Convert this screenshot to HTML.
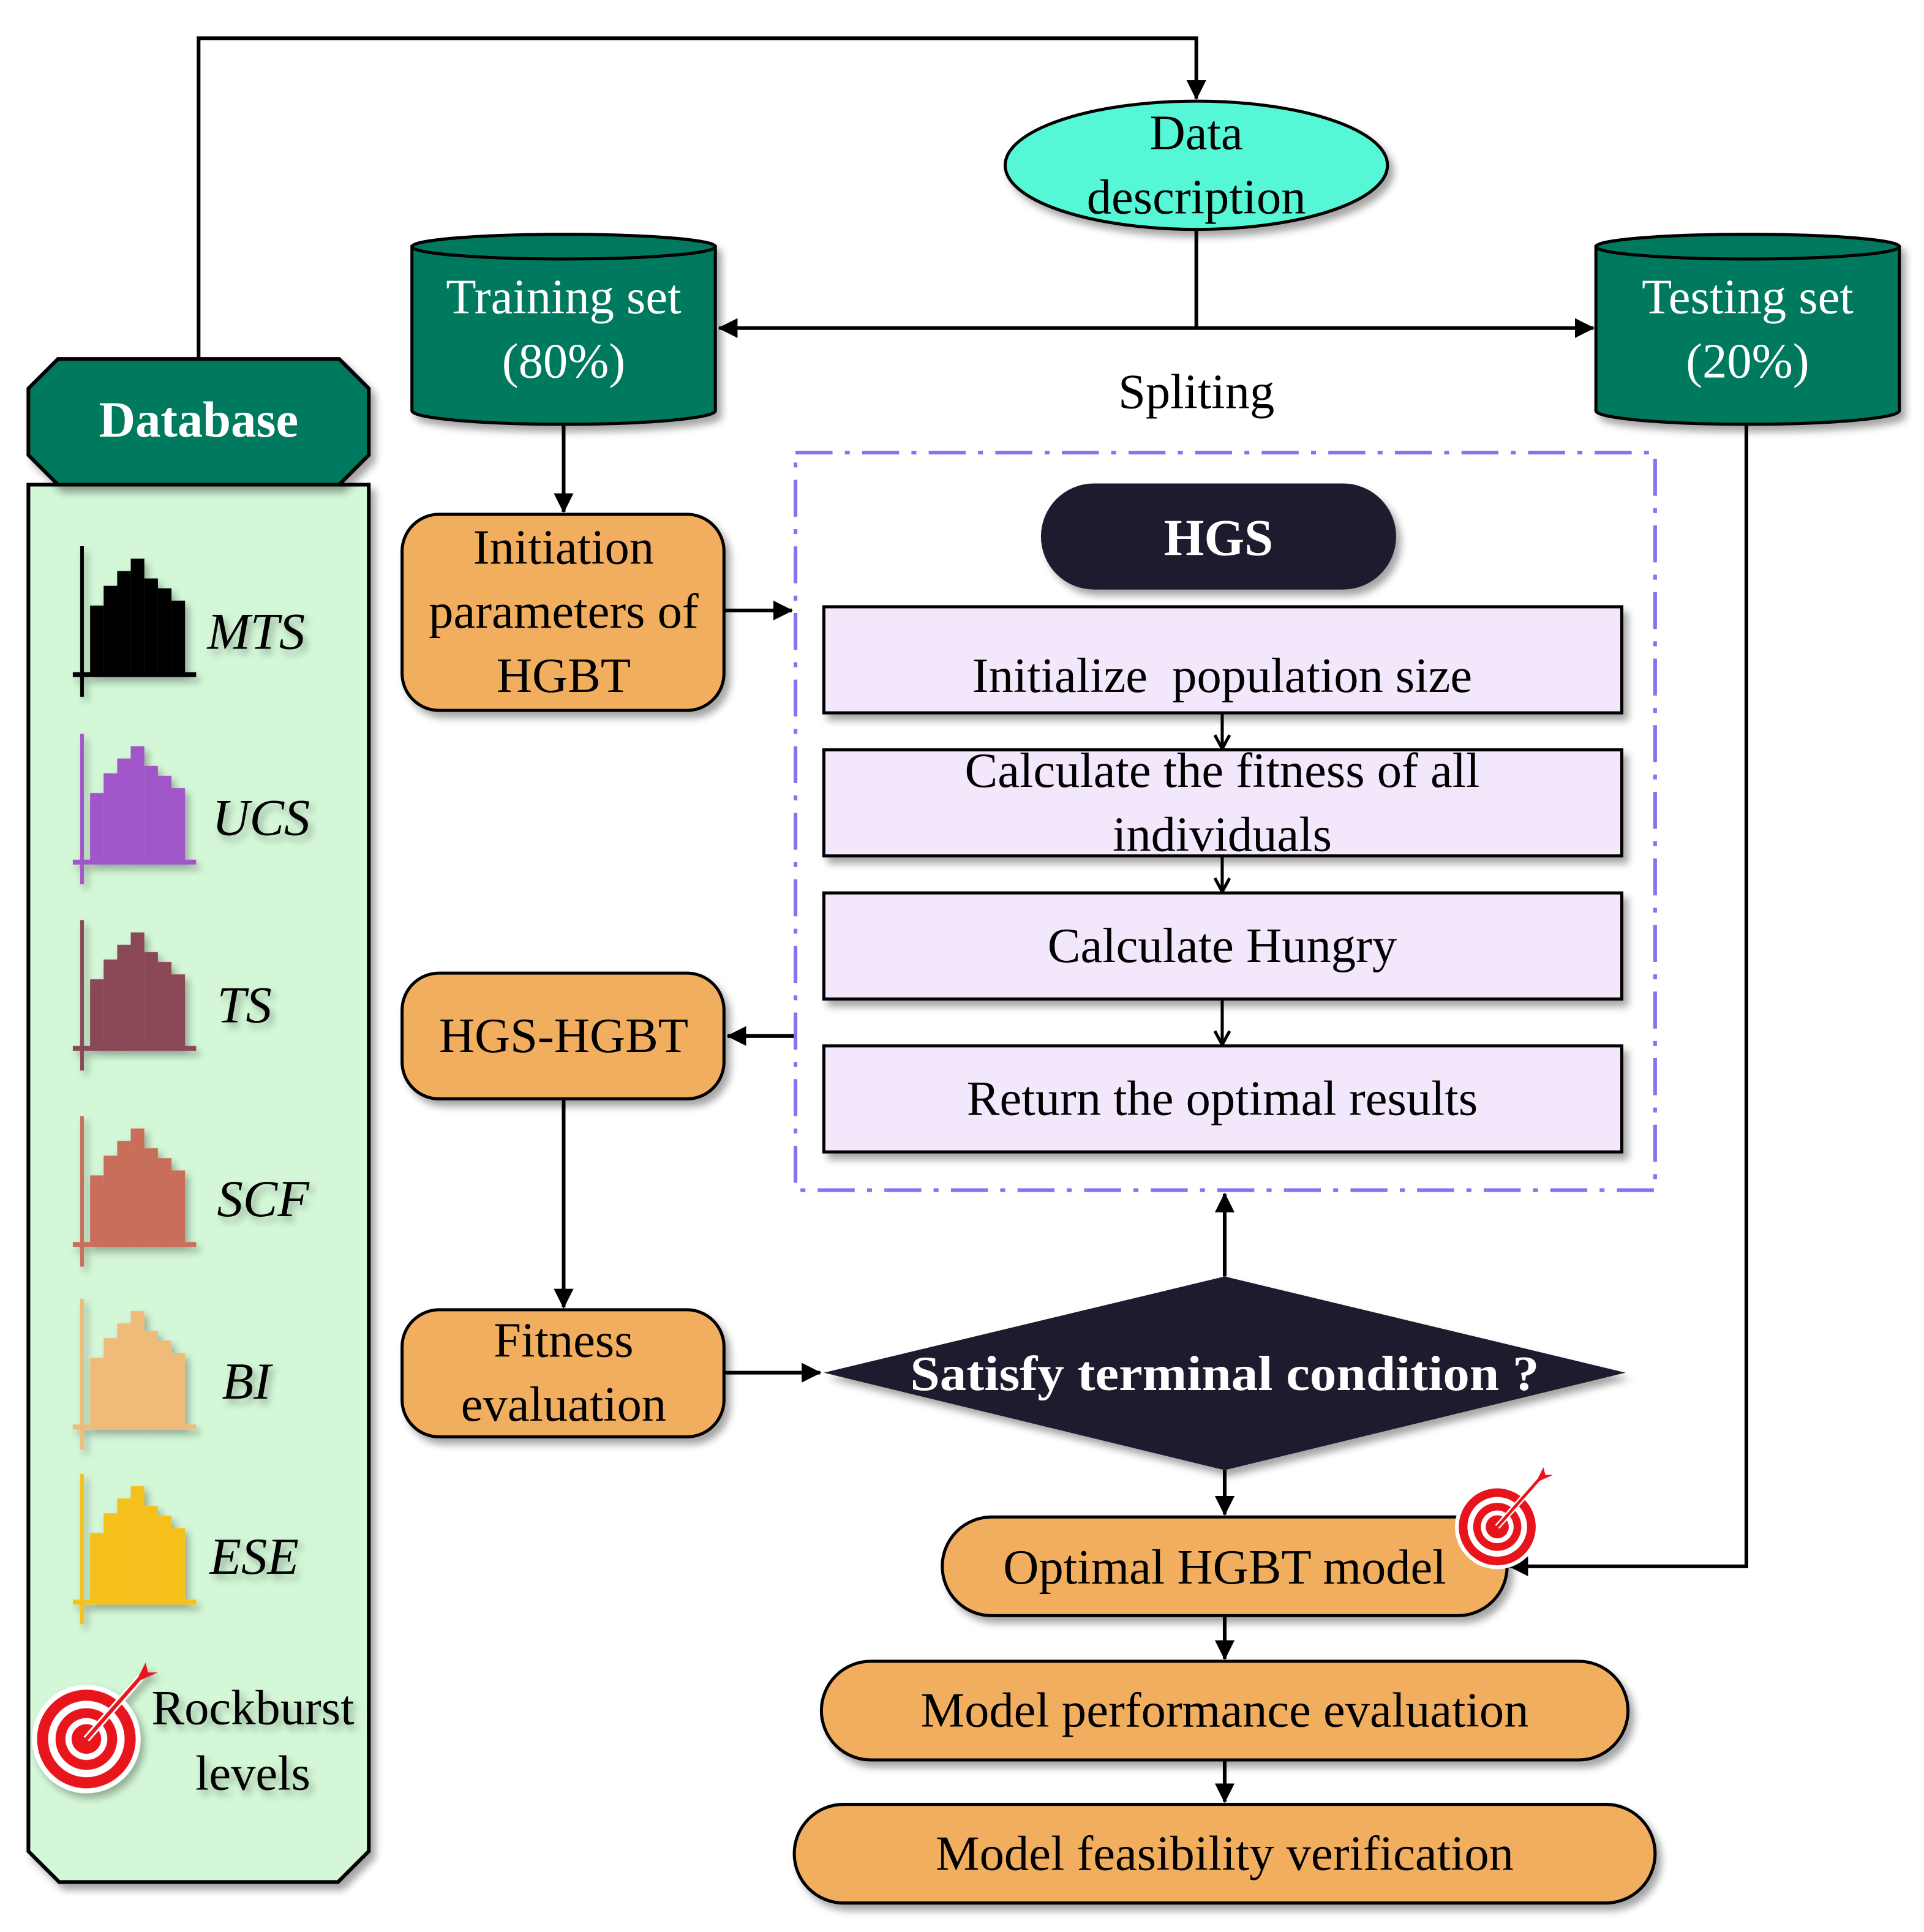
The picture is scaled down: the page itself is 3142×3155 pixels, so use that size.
<!DOCTYPE html>
<html><head><meta charset="utf-8"><style>
html,body{margin:0;padding:0;background:#fff;}
svg{display:block;}
text{font-family:"Liberation Serif",serif;}
</style></head><body>
<svg width="3142" height="3155" viewBox="0 0 1560 1566.5" xmlns="http://www.w3.org/2000/svg">
<defs>
<filter id="sh" x="-10%" y="-10%" width="130%" height="140%"><feDropShadow dx="4" dy="5" stdDeviation="3" flood-color="#000" flood-opacity="0.35"/></filter>
<filter id="ts" x="-10%" y="-10%" width="130%" height="140%"><feDropShadow dx="3" dy="4" stdDeviation="3" flood-color="#000" flood-opacity="0.3"/></filter>
<marker id="ah" markerWidth="10" markerHeight="10" refX="9" refY="5" orient="auto" markerUnits="userSpaceOnUse" viewBox="0 0 10 10"><path d="M0,0 L10,5 L0,10 z" fill="#000"/></marker>
<marker id="ab" markerWidth="16" markerHeight="16" refX="15" refY="8" orient="auto" markerUnits="userSpaceOnUse" viewBox="0 0 16 16"><path d="M0,0 L16,8 L0,16 z" fill="#000"/></marker>
<marker id="ao" markerWidth="14" markerHeight="14" refX="12" refY="7" orient="auto" markerUnits="userSpaceOnUse" viewBox="0 0 14 14"><path d="M1,1 L12,7 L1,13" fill="none" stroke="#000" stroke-width="2.5"/></marker>
<g id="bars">
<rect x="6" y="-57" width="11" height="57"/><rect x="17" y="-73" width="11" height="73"/><rect x="28" y="-85" width="11" height="85"/><rect x="39" y="-95" width="11" height="95"/><rect x="50" y="-79" width="11" height="79"/><rect x="61" y="-71" width="11" height="71"/><rect x="72" y="-61" width="11" height="61"/>
<rect x="-2" y="-105" width="3" height="122"/><rect x="-8" y="-3" width="100" height="4"/>
</g>
<g id="target">
<circle r="44" fill="#fff"/><circle r="40" fill="#e8141c"/><circle r="31" fill="#fff"/><circle r="25" fill="#e8141c"/><circle r="17" fill="#fff"/><circle r="12" fill="#e8141c"/>
<line x1="0" y1="0" x2="44" y2="-50" stroke="#fff" stroke-width="6"/>
<line x1="0" y1="0" x2="44" y2="-50" stroke="#e8141c" stroke-width="3"/>
<path d="M40,-46 L48,-62 L50,-54 L58,-54 Z" fill="#e8141c"/>
</g>
</defs>

<!-- top connector -->
<polyline points="161,290 161,31 970,31 970,80" fill="none" stroke="#000" stroke-width="3" marker-end="url(#ab)"/>

<!-- Database panel -->
<path d="M23,393 L299,393 L299,1501 L274,1526 L48,1526 L23,1501 Z" fill="#d3f7d7" stroke="#000" stroke-width="3" filter="url(#sh)"/>
<path d="M47,291 L275,291 L299,315 L299,369 L275,393 L47,393 L23,369 L23,315 Z" fill="#007a5e" stroke="#000" stroke-width="3" filter="url(#sh)"/>
<text x="161" y="354" font-size="41" font-weight="bold" fill="#fff" text-anchor="middle">Database</text>

<g filter="url(#ts)">
<use href="#bars" x="67" y="548" fill="#000"/>
<use href="#bars" x="67" y="700" fill="#a057c8"/>
<use href="#bars" x="67" y="851" fill="#8a4656"/>
<use href="#bars" x="67" y="1010" fill="#c96e5a"/>
<use href="#bars" x="67" y="1158" fill="#f0bb78"/>
<use href="#bars" x="67" y="1300" fill="#f6c01a"/>
<text x="168" y="526" font-size="42" font-style="italic">MTS</text>
<text x="172" y="677" font-size="42" font-style="italic">UCS</text>
<text x="176" y="829" font-size="42" font-style="italic">TS</text>
<text x="176" y="986" font-size="42" font-style="italic">SCF</text>
<text x="180" y="1134" font-size="42" font-style="italic">BI</text>
<text x="170" y="1276" font-size="42" font-style="italic">ESE</text>
<use href="#target" x="70" y="1410"/>
<text x="205" y="1398" font-size="40" text-anchor="middle">Rockburst</text>
<text x="205" y="1451" font-size="40" text-anchor="middle">levels</text>
</g>

<!-- Data description -->
<ellipse cx="970" cy="134" rx="155" ry="52" fill="#55f7d6" stroke="#000" stroke-width="2.5" filter="url(#sh)"/>
<text x="970" y="121" font-size="40" text-anchor="middle">Data</text>
<text x="970" y="173" font-size="40" text-anchor="middle">description</text>
<line x1="970" y1="186" x2="970" y2="266" stroke="#000" stroke-width="3"/>
<line x1="970" y1="266" x2="583" y2="266" stroke="#000" stroke-width="3" marker-end="url(#ab)"/>
<line x1="970" y1="266" x2="1292" y2="266" stroke="#000" stroke-width="3" marker-end="url(#ab)"/>
<text x="970" y="331" font-size="40" text-anchor="middle">Spliting</text>

<!-- cylinders -->
<g filter="url(#sh)">
<path d="M334,200 L334,333 A123,11 0 0 0 580,333 L580,200 Z" fill="#007a5e" stroke="#000" stroke-width="2.5"/>
<ellipse cx="457" cy="200" rx="123" ry="10" fill="#007a5e" stroke="#000" stroke-width="2.5"/>
<path d="M1294,200 L1294,333 A123,11 0 0 0 1540,333 L1540,200 Z" fill="#007a5e" stroke="#000" stroke-width="2.5"/>
<ellipse cx="1417" cy="200" rx="123" ry="10" fill="#007a5e" stroke="#000" stroke-width="2.5"/>
</g>
<text x="457" y="254" font-size="40" fill="#fff" text-anchor="middle">Training set</text>
<text x="457" y="306" font-size="40" fill="#fff" text-anchor="middle">(80%)</text>
<text x="1417" y="254" font-size="40" fill="#fff" text-anchor="middle">Testing set</text>
<text x="1417" y="306" font-size="40" fill="#fff" text-anchor="middle">(20%)</text>

<!-- left orange boxes -->
<line x1="457" y1="344" x2="457" y2="415" stroke="#000" stroke-width="3" marker-end="url(#ab)"/>
<rect x="326" y="417" width="261" height="159" rx="30" fill="#f2ae5f" stroke="#000" stroke-width="2.5" filter="url(#sh)"/>
<text x="457" y="457" font-size="40" text-anchor="middle">Initiation</text>
<text x="457" y="509" font-size="40" text-anchor="middle">parameters of</text>
<text x="457" y="561" font-size="40" text-anchor="middle">HGBT</text>
<line x1="587" y1="495" x2="642" y2="495" stroke="#000" stroke-width="3" marker-end="url(#ab)"/>

<rect x="326" y="789" width="261" height="102" rx="30" fill="#f2ae5f" stroke="#000" stroke-width="2.5" filter="url(#sh)"/>
<text x="457" y="853" font-size="40" text-anchor="middle">HGS-HGBT</text>
<line x1="645" y1="840" x2="590" y2="840" stroke="#000" stroke-width="3" marker-end="url(#ab)"/>
<line x1="457" y1="891" x2="457" y2="1060" stroke="#000" stroke-width="3" marker-end="url(#ab)"/>

<rect x="326" y="1062" width="261" height="103" rx="30" fill="#f2ae5f" stroke="#000" stroke-width="2.5" filter="url(#sh)"/>
<text x="457" y="1100" font-size="40" text-anchor="middle">Fitness</text>
<text x="457" y="1152" font-size="40" text-anchor="middle">evaluation</text>
<line x1="587" y1="1113" x2="665" y2="1113" stroke="#000" stroke-width="3" marker-end="url(#ab)"/>

<!-- HGS dashed box -->
<rect x="645" y="367" width="697" height="598" fill="none" stroke="#8a72ee" stroke-width="3" stroke-dasharray="30,10,4,10"/>
<rect x="844" y="392" width="288" height="86" rx="43" fill="#1c1a2e" filter="url(#sh)"/>
<text x="988" y="450" font-size="42" font-weight="bold" fill="#fff" text-anchor="middle">HGS</text>

<g filter="url(#sh)" fill="#f3e7fc" stroke="#000" stroke-width="2.5">
<rect x="668" y="492" width="647" height="86"/>
<rect x="668" y="608" width="647" height="86"/>
<rect x="668" y="724" width="647" height="86"/>
<rect x="668" y="848" width="647" height="86"/>
</g>
<text x="991" y="561" font-size="40" text-anchor="middle" xml:space="preserve">Initialize  population size</text>
<text x="991" y="638" font-size="40" text-anchor="middle">Calculate the fitness of all</text>
<text x="991" y="690" font-size="40" text-anchor="middle">individuals</text>
<text x="991" y="780" font-size="40" text-anchor="middle">Calculate Hungry</text>
<text x="991" y="904" font-size="40" text-anchor="middle">Return the optimal results</text>
<g stroke="#000" stroke-width="2.5" marker-end="url(#ao)">
<line x1="991" y1="578" x2="991" y2="607"/>
<line x1="991" y1="694" x2="991" y2="723"/>
<line x1="991" y1="810" x2="991" y2="847"/>
</g>

<!-- diamond -->
<line x1="993" y1="1035" x2="993" y2="968" stroke="#000" stroke-width="3" marker-end="url(#ab)"/>
<polygon points="993,1035 1318,1113 993,1192 668,1113" fill="#1c1a2e" filter="url(#sh)"/>
<text x="993" y="1127" font-size="40" font-weight="bold" fill="#fff" text-anchor="middle" textLength="510" lengthAdjust="spacingAndGlyphs">Satisfy terminal condition ?</text>
<line x1="993" y1="1192" x2="993" y2="1228" stroke="#000" stroke-width="3" marker-end="url(#ab)"/>

<!-- bottom boxes -->
<rect x="764" y="1230" width="458" height="80" rx="40" fill="#f2ae5f" stroke="#000" stroke-width="2.5" filter="url(#sh)"/>
<text x="993" y="1284" font-size="40" text-anchor="middle">Optimal HGBT model</text>
<polyline points="1416,344 1416,1270 1224,1270" fill="none" stroke="#000" stroke-width="3" marker-end="url(#ab)"/>
<use href="#target" x="1214" y="1238" transform="translate(1214 1238) scale(0.78) translate(-1214 -1238)"/>
<line x1="993" y1="1310" x2="993" y2="1345" stroke="#000" stroke-width="3" marker-end="url(#ab)"/>
<rect x="666" y="1347" width="654" height="80" rx="40" fill="#f2ae5f" stroke="#000" stroke-width="2.5" filter="url(#sh)"/>
<text x="993" y="1400" font-size="40" text-anchor="middle">Model performance evaluation</text>
<line x1="993" y1="1427" x2="993" y2="1461" stroke="#000" stroke-width="3" marker-end="url(#ab)"/>
<rect x="644" y="1463" width="698" height="80" rx="40" fill="#f2ae5f" stroke="#000" stroke-width="2.5" filter="url(#sh)"/>
<text x="993" y="1516" font-size="40" text-anchor="middle">Model feasibility verification</text>
</svg>
</body></html>
